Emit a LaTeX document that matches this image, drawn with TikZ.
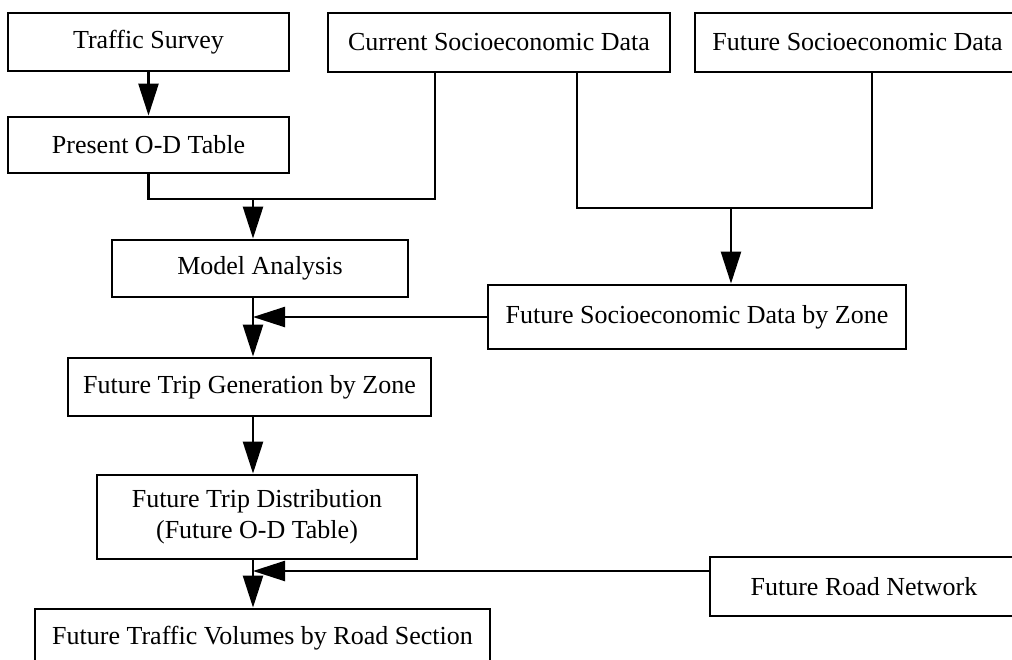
\documentclass[tikz,border=0pt]{standalone}
\usepackage{fontspec}
\setmainfont{Liberation Serif}
\usetikzlibrary{arrows.meta,calc,positioning}

\begin{document}
\begin{tikzpicture}[x=0.5pt, y=-0.5pt,
	box/.style={draw, line width=1.4pt, inner sep=0pt, align=center, font=\fontsize{13}{15.5}\selectfont},
	link/.style={line width=1.2pt},
	flow/.style={line width=1.2pt, -{Triangle[length=16pt, width=10pt]}}]
	\clip (0,0) rectangle (1012,659);
	% Place nodes
	\node [box, minimum width=140.5pt, minimum height=29pt] (survey) at (148.5,42) {Traffic Survey};
	\node [box, minimum width=140.5pt, minimum height=28pt] (presentod) at (148.5,145) {Present O-D Table};
	\node [box, minimum width=171pt, minimum height=29.5pt] (currentdata) at (499,42.5) {Current Socioeconomic Data};
	\node [box, minimum width=162.5pt, minimum height=29.5pt] (futuredata) at (857.5,42.5) {Future Socioeconomic Data};
	\node [box, minimum width=148pt, minimum height=28.5pt] (model) at (260,268.5) {Model Analysis};
	\node [box, minimum width=209pt, minimum height=32pt] (zonedata) at (697,317) {Future Socioeconomic Data by Zone};
	\node [box, minimum width=181.5pt, minimum height=29pt] (tripgen) at (249.5,387) {Future Trip Generation by Zone};
	\node [box, minimum width=160pt, minimum height=42pt] (tripdist) at (257,517) {Future Trip Distribution\\(Future O-D Table)};
	\node [box, minimum width=154pt, minimum height=29.5pt] (roadnet) at (864,586.5) {Future Road Network};
	\node [box, minimum width=227.5pt, minimum height=29pt] (volumes) at (262.5,638) {Future Traffic Volumes by Road Section};
	
	% Junction points
	\coordinate (curleft) at (435,72);
	\coordinate (curright) at (577,72);
	\coordinate (futout) at (872,72);
	\coordinate (odjoin) at (253,199);
	\coordinate (zonejoin) at (731,208);
	\coordinate (genjoin) at (253,317);
	\coordinate (distjoin) at (253,571);
	
	% Draw edges
	\draw [flow] (survey) -- (presentod);
	\draw [link] (presentod.south) |- (curleft |- odjoin) -- (curleft);
	\draw [flow] (odjoin) -- (odjoin |- model.north);
	\draw [link] (curright) |- (zonejoin) -| (futout);
	\draw [flow] (zonejoin) -- (zonejoin |- zonedata.north);
	\draw [flow] (model.south -| genjoin) -- (tripgen.north -| genjoin);
	\draw [flow] (zonedata.west) -- (zonedata.west -| genjoin);
	\draw [flow] (tripgen.south -| genjoin) -- (tripdist.north -| genjoin);
	\draw [flow] (tripdist.south -| distjoin) -- (volumes.north -| distjoin);
	\draw [flow] (roadnet.west |- distjoin) -- (distjoin);
\end{tikzpicture}
\end{document}
